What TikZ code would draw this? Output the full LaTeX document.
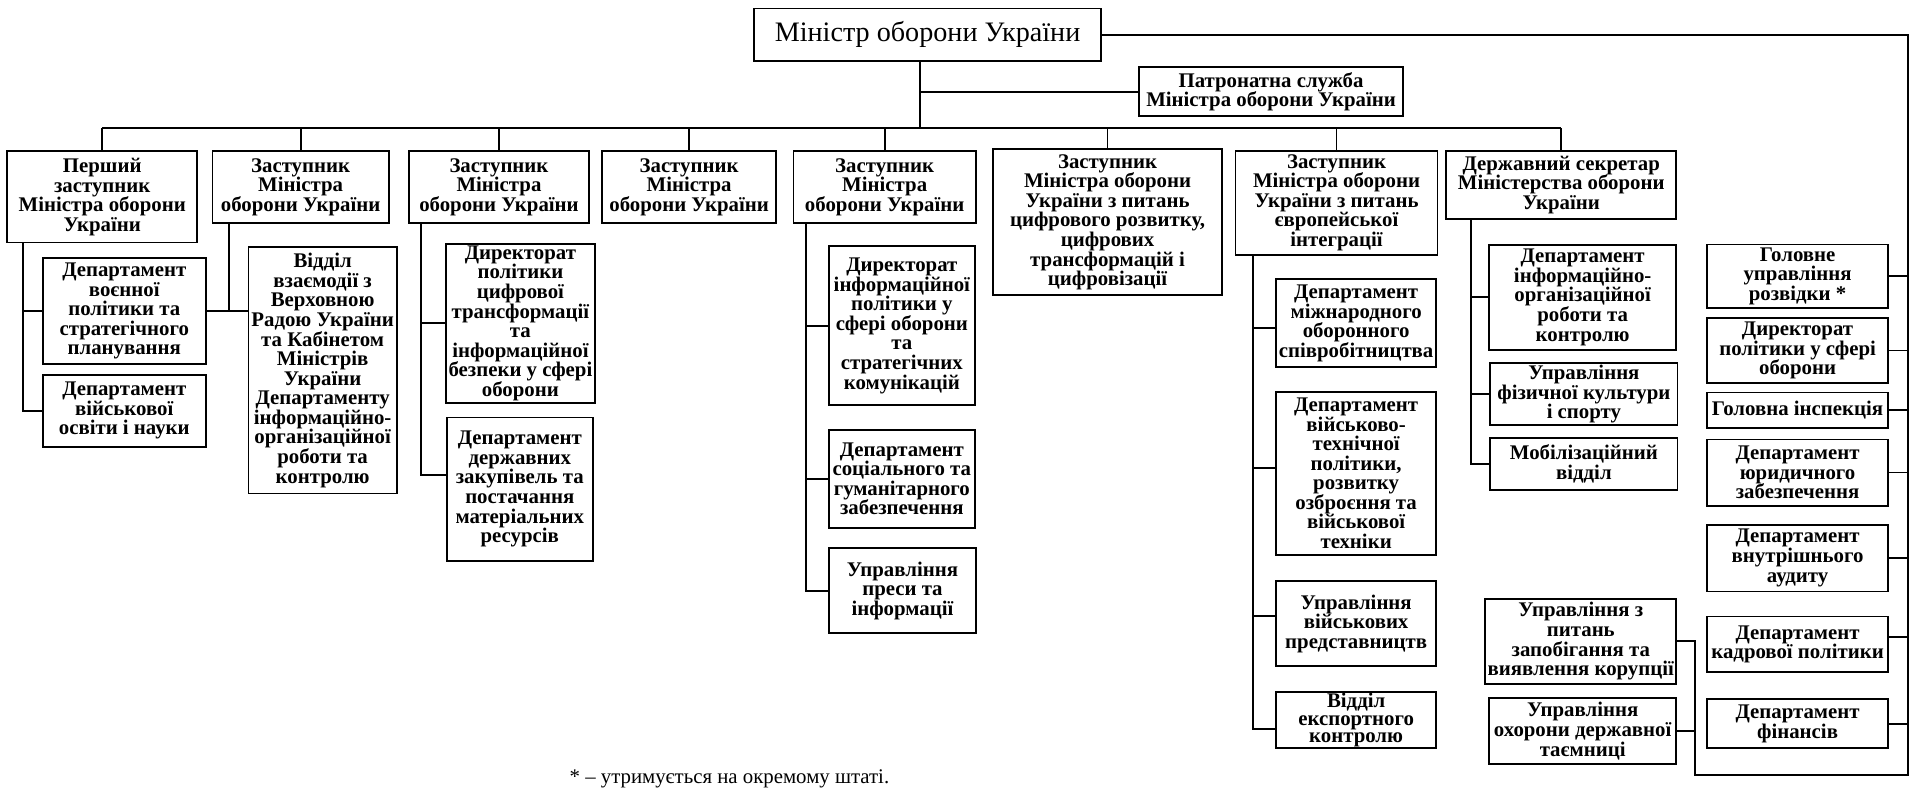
\documentclass[tikz,border=0pt]{standalone}
\usepackage{fontspec}
\setmainfont{Liberation Serif}
\begin{document}
\begin{tikzpicture}[x=1pt,y=-1pt,
  bx/.style={draw, line width=1.5pt, inner sep=0pt, align=center,
    font=\bfseries\fontsize{17}{16}\selectfont},
  tight/.style={font=\bfseries\fontsize{17}{14}\selectfont},
  ln/.style={line width=1.5pt}]
\useasboundingbox (0,0) rectangle (1568,657);
\fill[white] (0,0) rectangle (1568,657);

% top
\node[bx, font=\fontsize{23}{24}\selectfont, minimum width=283pt, minimum height=43pt] (min) at (757.5,28.5) {Міністр оборони України};
\node[bx, minimum width=216pt, minimum height=40pt] (pat) at (1038,75) {Патронатна служба\\Міністра оборони України};

% first row
\node[bx, minimum width=155pt, minimum height=74.5pt] (p1) at (83.5,160.75) {Перший\\заступник\\Міністра оборони\\України};
\node[bx, minimum width=144pt, minimum height=58.5pt] (z2) at (245.5,152.75) {Заступник\\Міністра\\оборони України};
\node[bx, minimum width=147pt, minimum height=58.5pt] (z3) at (407.5,152.75) {Заступник\\Міністра\\оборони України};
\node[bx, minimum width=142.5pt, minimum height=58.5pt] (z4) at (562.75,152.75) {Заступник\\Міністра\\оборони України};
\node[bx, minimum width=149pt, minimum height=58.5pt] (z5) at (722.5,152.75) {Заступник\\Міністра\\оборони України};
\node[bx, minimum width=187pt, minimum height=119pt] (z6) at (904.5,181.5) {Заступник\\Міністра оборони\\України з питань\\цифрового розвитку,\\цифрових\\трансформацій і\\цифровізації};
\node[bx, minimum width=165pt, minimum height=85pt] (z7) at (1091.5,165.5) {Заступник\\Міністра оборони\\України з питань\\європейської\\інтеграції};
\node[bx, minimum width=188pt, minimum height=56pt] (ds) at (1275,151) {Державний секретар\\Міністерства оборони\\України};

% column p1
\node[bx, minimum width=133pt, minimum height=86pt] (p1a) at (101.5,254) {Департамент\\воєнної\\політики та\\стратегічного\\планування};
\node[bx, minimum width=133pt, minimum height=59pt] (p1b) at (101.5,335.5) {Департамент\\військової\\освіти і науки};
\node[bx, minimum width=121pt, minimum height=201pt] (vid) at (263.5,302.5) {Відділ\\взаємодії з\\Верховною\\Радою України\\та Кабінетом\\Міністрів\\України\\Департаменту\\інформаційно-\\організаційної\\роботи та\\контролю};

% column z3
\node[bx, minimum width=122pt, minimum height=130pt] (z3a) at (425,264) {Директорат\\політики\\цифрової\\трансформації\\та\\інформаційної\\безпеки у сфері\\оборони};
\node[bx, minimum width=119pt, minimum height=117pt] (z3b) at (424.5,399.5) {Департамент\\державних\\закупівель та\\постачання\\матеріальних\\ресурсів};

% column z5
\node[bx, minimum width=119pt, minimum height=130pt] (z5a) at (736.5,266) {Директорат\\інформаційної\\політики у\\сфері оборони\\та\\стратегічних\\комунікацій};
\node[bx, minimum width=119pt, minimum height=80pt] (z5b) at (736.5,391) {Департамент\\соціального та\\гуманітарного\\забезпечення};
\node[bx, minimum width=120pt, minimum height=69.4pt] (z5c) at (737,482.3) {Управління\\преси та\\інформації};

% column z7
\node[bx, minimum width=131pt, minimum height=72pt] (z7a) at (1107.5,264) {Департамент\\міжнародного\\оборонного\\співробітництва};
\node[bx, minimum width=131pt, minimum height=133pt] (z7b) at (1107.5,386.5) {Департамент\\військово-\\технічної\\політики,\\розвитку\\озброєння та\\військової\\техніки};
\node[bx, minimum width=131pt, minimum height=69.4pt] (z7c) at (1107.5,509.3) {Управління\\військових\\представництв};
\node[bx, tight, minimum width=131pt, minimum height=46pt] (z7d) at (1107.5,588) {Відділ\\експортного\\контролю};

% column ds
\node[bx, minimum width=153pt, minimum height=85.6pt] (dsa) at (1292.5,242.8) {Департамент\\інформаційно-\\організаційної\\роботи та\\контролю};
\node[bx, minimum width=153pt, minimum height=50.4pt] (dsb) at (1293.5,321.8) {Управління\\фізичної культури\\і спорту};
\node[bx, minimum width=153pt, minimum height=42.5pt] (dsc) at (1293.5,378.75) {Мобілізаційний\\відділ};

% right column
\node[bx, minimum width=148pt, minimum height=52pt] (r1) at (1468,225.65) {Головне\\управління\\розвідки *};
\node[bx, minimum width=148pt, minimum height=53pt] (r2) at (1468,286.25) {Директорат\\політики у сфері\\оборони};
\node[bx, minimum width=148pt, minimum height=29pt] (r3) at (1468,335) {Головна інспекція};
\node[bx, minimum width=148pt, minimum height=54pt] (r4) at (1468,385.9) {Департамент\\юридичного\\забезпечення};
\node[bx, minimum width=148pt, minimum height=54.6pt] (r5) at (1468,455.7) {Департамент\\внутрішнього\\аудиту};
\node[bx, minimum width=148pt, minimum height=45.5pt] (r6) at (1468,526.25) {Департамент\\кадрової політики};
\node[bx, minimum width=148pt, minimum height=40pt] (r7) at (1468,591) {Департамент\\фінансів};
\node[bx, minimum width=156pt, minimum height=69.6pt] (L1) at (1291,523.8) {Управління з\\питань\\запобігання та\\виявлення корупції};
\node[bx, minimum width=153pt, minimum height=54pt] (L2) at (1292.5,597) {Управління\\охорони державної\\таємниці};

% footnote
\node[anchor=west, inner sep=0pt, font=\fontsize{17}{18}\selectfont] (fn) at (465,636) {* – утримується на окремому штаті.};

% coordinates
\coordinate (mvx) at (751,0);
\coordinate (busL) at (83.5,104.5);
\coordinate (busR) at (1275,104.5);
\coordinate (rc) at (1558,633);
\coordinate (lvx) at (1384,0);
\coordinate (p1x) at (19,0);
\coordinate (z2x) at (187,0);
\coordinate (z3x) at (344,0);
\coordinate (z5x) at (658,0);
\coordinate (z7x) at (1023,0);
\coordinate (dsx) at (1201,0);

% top connectors
\draw[ln] (min.south -| mvx) -- (busL -| mvx);
\draw[ln] (pat.west) -- (pat.west -| mvx);
\draw[ln] (busL) -- (busR);
\foreach \b in {p1,z2,z3,z4,z5,z6,z7,ds} \draw[ln] (\b.north) -- (\b.north |- busL);

% right side
\draw[ln] (min.east) -| (rc) -- (rc -| lvx) |- (L1.east);
\draw[ln] (L2.east) -- (L2.east -| lvx);
\foreach \b in {r1,r2,r3,r4,r5,r7} \draw[ln] (\b.east) -- (\b.east -| rc);
\draw[ln] ([yshift=6pt]r6.east) -- ([yshift=6pt]r6.east -| rc);

% column p1
\draw[ln] (p1.south -| p1x) |- (p1b.west);
\draw[ln] (p1a.west) -- (p1a.west -| p1x);
\draw[ln] (p1a.east) -- (p1a.east -| vid.west);
\draw[ln] (z2.south -| z2x) -- (p1a.east -| z2x);

% column z3
\draw[ln] (z3.south -| z3x) |- ([yshift=11.5pt]z3b.west);
\draw[ln] (z3a.west) -- (z3a.west -| z3x);

% column z5
\draw[ln] (z5.south -| z5x) |- (z5c.west);
\draw[ln] (z5a.west) -- (z5a.west -| z5x);
\draw[ln] (z5b.west) -- (z5b.west -| z5x);

% column z7
\draw[ln] (z7.south -| z7x) |- ([yshift=-7pt]z7d.west);
\draw[ln] ([yshift=-4pt]z7a.west) -- ([yshift=-4pt]z7a.west -| z7x);
\draw[ln] ([yshift=4.5pt]z7b.west) -- ([yshift=4.5pt]z7b.west -| z7x);
\draw[ln] ([yshift=6pt]z7c.west) -- ([yshift=6pt]z7c.west -| z7x);

% column ds
\draw[ln] (ds.south -| dsx) |- (dsc.west);
\draw[ln] (dsa.west) -- (dsa.west -| dsx);
\draw[ln] (dsb.west) -- (dsb.west -| dsx);
\end{tikzpicture}
\end{document}
